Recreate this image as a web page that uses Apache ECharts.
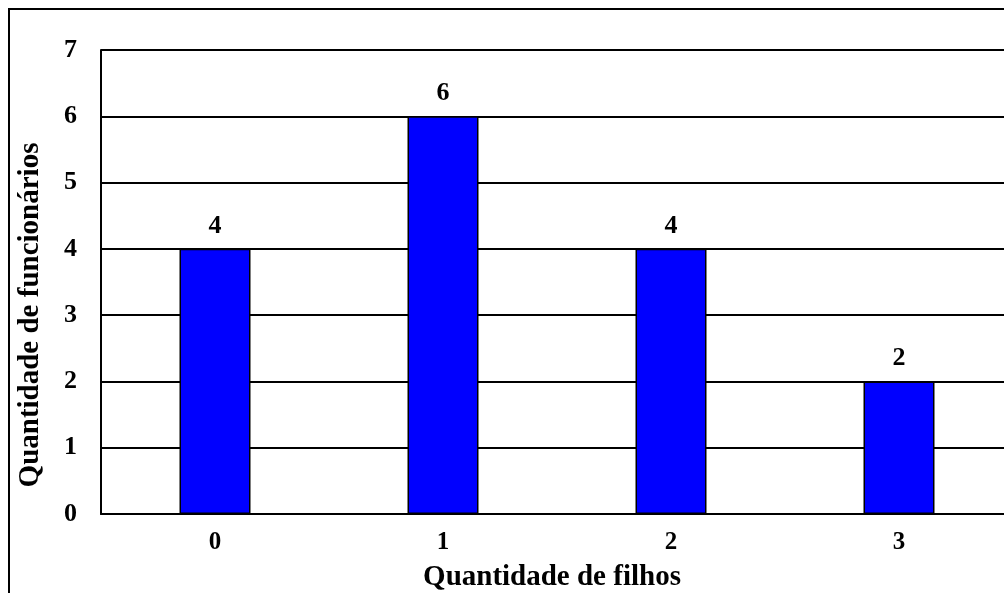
<!DOCTYPE html>
<html>
<head>
<meta charset="utf-8">
<script src="https://cdn.jsdelivr.net/npm/echarts@6/dist/echarts.min.js"></script>
<style>html,body{margin:0;padding:0;background:#fff}#c{width:1004px;height:593px}</style>
</head>
<body>
<div id="c"></div>
<script>
const categories = ['0', '1', '2', '3'];
const values = [4, 6, 4, 2];
const yTicks = [0, 1, 2, 3, 4, 5, 6, 7];
const xTitle = 'Quantidade de filhos';
const yTitle = 'Quantidade de funcionários';

const FONT = '"Liberation Serif", "Times New Roman", serif';
const chart = echarts.init(document.getElementById('c'));
chart.setOption({
  animation: false,
  backgroundColor: '#fff',
  grid: { left: 101, top: 50, width: 912, height: 464, containLabel: false, outerBoundsMode: 'none' },
  xAxis: {
    type: 'category',
    data: categories,
    axisLine: { lineStyle: { color: '#000', width: 2 } },
    axisTick: { show: false },
    axisLabel: { color: '#000', fontFamily: FONT, fontWeight: 'bold', fontSize: 25, margin: 16 }
  },
  yAxis: {
    type: 'value',
    min: yTicks[0],
    max: yTicks[yTicks.length - 1],
    interval: 1,
    axisLine: { show: true, lineStyle: { color: '#000', width: 2 } },
    axisTick: { show: false },
    splitLine: { lineStyle: { color: '#000', width: 2 } },
    axisLabel: { color: '#000', fontFamily: FONT, fontWeight: 'bold', fontSize: 26, margin: 24 }
  },
  series: [{
    type: 'bar',
    data: values,
    barWidth: 71,
    itemStyle: { color: '#0000ff', borderColor: '#000', borderWidth: 1.5 },
    label: { show: true, position: 'top', distance: 10, color: '#000', fontFamily: FONT, fontWeight: 'bold', fontSize: 26 }
  }],
  graphic: [
    { type: 'rect', shape: { x: 9, y: 9, width: 1200, height: 800 }, style: { fill: 'none', stroke: '#000', lineWidth: 2 }, z: 10 },
    { type: 'text', x: 552, y: 578, style: { text: xTitle, font: 'bold 29px ' + FONT, fill: '#000', align: 'center', verticalAlign: 'middle' } },
    { type: 'text', x: 31, y: 315, rotation: Math.PI / 2, style: { text: yTitle, font: 'bold 29px ' + FONT, fill: '#000', align: 'center', verticalAlign: 'middle' } }
  ]
});
</script>
</body>
</html>
